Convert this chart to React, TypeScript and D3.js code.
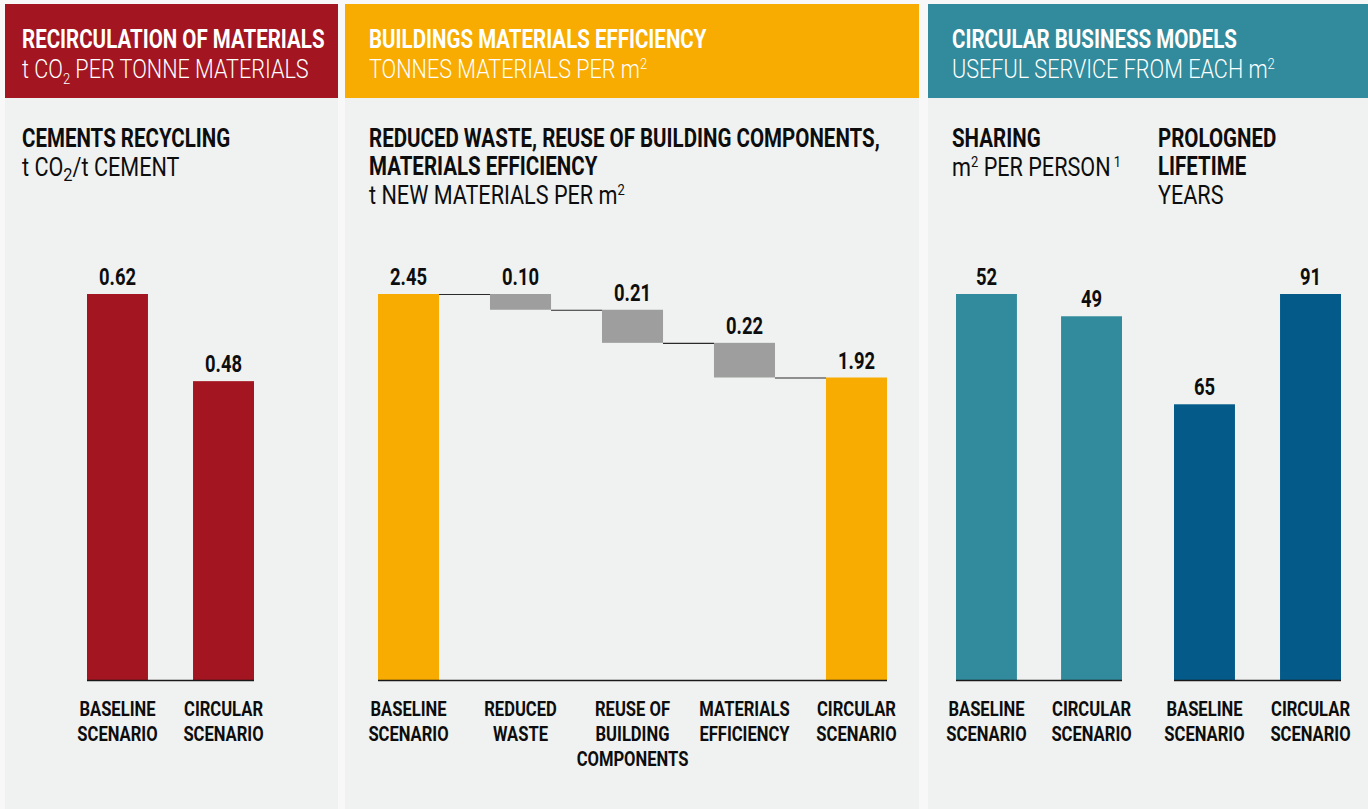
import React from "react";
import * as d3 from "d3";

// ---------- data ----------
const cementCategories = [["BASELINE", "SCENARIO"], ["CIRCULAR", "SCENARIO"]];
const cementValues = [0.62, 0.48];

const buildingCategories = [
  ["BASELINE", "SCENARIO"],
  ["REDUCED", "WASTE"],
  ["REUSE OF", "BUILDING", "COMPONENTS"],
  ["MATERIALS", "EFFICIENCY"],
  ["CIRCULAR", "SCENARIO"],
];
const buildingStart = 2.45;
const buildingSteps = [0.1, 0.21, 0.22];
const buildingEnd = 1.92;

const sharingCategories = [["BASELINE", "SCENARIO"], ["CIRCULAR", "SCENARIO"]];
const sharingValues = [52, 49];
const lifetimeCategories = [["BASELINE", "SCENARIO"], ["CIRCULAR", "SCENARIO"]];
const lifetimeValues = [65, 91];

// ---------- style ----------
const RED = "#a31521";
const ORANGE = "#f8ab00";
const TEAL = "#318b9c";
const BLUE = "#045b8a";
const GREY = "#9d9e9d";
const PANEL = "#f0f2f1";
const OUTER = "#f8f8f8";
const INK = "#0d0d0d";
const FONT = "Roboto, 'Liberation Sans', sans-serif";

const BASE_Y = 680;
const TOP_Y = 294;

function T({ x, y, size, weight = 400, fill = INK, anchor = "start", sx, children }: any) {
  const s = sx ?? (weight >= 700 ? 0.82 : 0.865);
  return (
    <text
      transform={`translate(${x},${y}) scale(${s},1)`}
      fontFamily={FONT}
      fontSize={size}
      fontWeight={weight}
      fill={fill}
      textAnchor={anchor}
    >
      {children}
    </text>
  );
}

function CatLabel({ cx, lines }: { cx: number; lines: string[] }) {
  return (
    <g>
      {lines.map((l, i) => (
        <T key={i} x={cx} y={716 + i * 25} size={21} weight={700} anchor="middle" sx={0.79}>
          {l}
        </T>
      ))}
    </g>
  );
}

function Bars({ values, cats, x0, x1, color, fmt, pad }: any) {
  const x = d3.scaleBand<number>().domain(values.map((_: any, i: number) => i)).range([x0, x1]).paddingInner(pad).paddingOuter(0);
  const y = d3.scaleLinear().domain([0, d3.max(values) as number]).range([BASE_Y, TOP_Y]);
  return (
    <g>
      {values.map((v: number, i: number) => (
        <g key={i}>
          <rect x={x(i)} y={y(v)} width={x.bandwidth()} height={y(0) - y(v)} fill={color} />
          <T x={(x(i) as number) + x.bandwidth() / 2} y={y(v) - 9} size={23} weight={700} anchor="middle" sx={0.8}>
            {fmt(v)}
          </T>
          <CatLabel cx={(x(i) as number) + x.bandwidth() / 2} lines={cats[i]} />
        </g>
      ))}
      <line x1={x0} x2={x1} y1={BASE_Y + 0.5} y2={BASE_Y + 0.5} stroke="#1a1a1a" strokeWidth={1.3} />
    </g>
  );
}

function Waterfall() {
  const x0 = 378, x1 = 887;
  const idx = buildingCategories.map((_, i) => i);
  const x = d3.scaleBand<number>().domain(idx).range([x0, x1]).paddingInner(0.455).paddingOuter(0);
  const y = d3.scaleLinear().domain([0, buildingStart]).range([BASE_Y, TOP_Y]);
  const fmt = d3.format(".2f");
  const levels: number[] = [buildingStart];
  buildingSteps.forEach((s) => levels.push(levels[levels.length - 1] - s));
  const bw = x.bandwidth();
  const items: any[] = [];
  items.push({ i: 0, top: buildingStart, bottom: 0, color: ORANGE, label: buildingStart });
  buildingSteps.forEach((s, k) => {
    items.push({ i: k + 1, top: levels[k], bottom: levels[k + 1], color: GREY, label: s });
  });
  items.push({ i: buildingSteps.length + 1, top: buildingEnd, bottom: 0, color: ORANGE, label: buildingEnd });
  return (
    <g>
      {items.map((d) => (
        <g key={d.i}>
          <rect x={x(d.i)} y={y(d.top)} width={bw} height={y(d.bottom) - y(d.top)} fill={d.color} />
          <T x={(x(d.i) as number) + bw / 2} y={y(d.top) - 9} size={23} weight={700} anchor="middle" sx={0.8}>
            {fmt(d.label)}
          </T>
          <CatLabel cx={(x(d.i) as number) + bw / 2} lines={buildingCategories[d.i]} />
        </g>
      ))}
      {levels.map((lv, k) => (
        <line
          key={k}
          x1={(x(k) as number) + bw}
          x2={x(k + 1) as number}
          y1={y(lv) + 0.5}
          y2={y(lv) + 0.5}
          stroke="#2a2a2a"
          strokeWidth={1.2}
        />
      ))}
      <line x1={x0} x2={x1} y1={BASE_Y + 0.5} y2={BASE_Y + 0.5} stroke="#1a1a1a" strokeWidth={1.3} />
    </g>
  );
}

function Sup({ children }: any) {
  return (
    <tspan fontSize={15} dy={-9}>
      {children}
    </tspan>
  );
}

export default function App() {
  const f2 = d3.format(".2f");
  const f0 = d3.format("d");
  return (
    <svg width={1368} height={809} style={{ position: "absolute", left: 0, top: 0 }}>
      <rect x={0} y={0} width={1368} height={809} fill={OUTER} />
      {/* panels */}
      <rect x={5} y={4} width={333} height={805} fill={PANEL} />
      <rect x={345} y={4} width={574} height={805} fill={PANEL} />
      <rect x={928} y={4} width={440} height={805} fill={PANEL} />
      <rect x={5} y={4} width={333} height={94} fill={RED} />
      <rect x={345} y={4} width={574} height={94} fill={ORANGE} />
      <rect x={928} y={4} width={440} height={94} fill={TEAL} />

      {/* headers */}
      <T x={22} y={48} size={25} weight={700} fill="#fff">RECIRCULATION OF MATERIALS</T>
      <T x={22} y={78} size={25} weight={300} fill="#fff">
        t CO<tspan fontSize={15} dy={6}>2</tspan><tspan dy={-6}> PER TONNE MATERIALS</tspan>
      </T>
      <T x={369} y={48} size={25} weight={700} fill="#fff">BUILDINGS MATERIALS EFFICIENCY</T>
      <T x={369} y={78} size={25} weight={300} fill="#fff">
        TONNES MATERIALS PER m<Sup>2</Sup>
      </T>
      <T x={952} y={48} size={25} weight={700} fill="#fff">CIRCULAR BUSINESS MODELS</T>
      <T x={952} y={78} size={25} weight={300} fill="#fff">
        USEFUL SERVICE FROM EACH m<Sup>2</Sup>
      </T>

      {/* subheadings */}
      <T x={22} y={147} size={25} weight={700}>CEMENTS RECYCLING</T>
      <T x={22} y={176} size={25} weight={400}>
        t CO<tspan fontSize={19} dy={5}>2</tspan><tspan dy={-5}>/t CEMENT</tspan>
      </T>

      <T x={369} y={147} size={25} weight={700}>REDUCED WASTE, REUSE OF BUILDING COMPONENTS,</T>
      <T x={369} y={175} size={25} weight={700}>MATERIALS EFFICIENCY</T>
      <T x={369} y={204} size={25} weight={400}>
        t NEW MATERIALS PER m<Sup>2</Sup>
      </T>

      <T x={952} y={147} size={25} weight={700}>SHARING</T>
      <T x={952} y={176} size={25} weight={400}>
        m<Sup>2</Sup><tspan dy={9}> PER PERSON</tspan><tspan fontSize={15} dy={-9}> 1</tspan>
      </T>
      <T x={1158} y={147} size={25} weight={700}>PROLOGNED</T>
      <T x={1158} y={175} size={25} weight={700}>LIFETIME</T>
      <T x={1158} y={204} size={25} weight={400}>YEARS</T>

      {/* charts */}
      <Bars values={cementValues} cats={cementCategories} x0={87} x1={254} color={RED} fmt={f2} pad={0.425} />
      <Waterfall />
      <Bars values={sharingValues} cats={sharingCategories} x0={956} x1={1122} color={TEAL} fmt={f0} pad={0.42} />
      <Bars values={lifetimeValues} cats={lifetimeCategories} x0={1174} x1={1341} color={BLUE} fmt={f0} pad={0.425} />
    </svg>
  );
}
